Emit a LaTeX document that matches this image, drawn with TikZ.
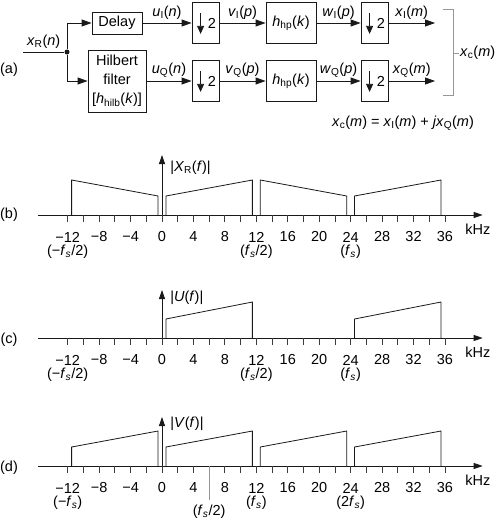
\documentclass[tikz,border=0pt]{standalone}
\usepackage{fontspec}
\setmainfont{Liberation Sans}
\usetikzlibrary{positioning, arrows.meta}
\definecolor{ink}{RGB}{25,25,25}
\definecolor{rulegray}{RGB}{150,150,150}
\newcommand{\sg}[3]{\textit{#1}\textsubscript{#2}(\textit{#3})}
\newcommand{\fsub}{\textit{f}\textsubscript{\textit{s}}}
% frequency axis of one spectrum panel
\newcommand{\freqaxis}{%
  \draw[sig, -{Triangle[length=9pt, width=6pt]}] (-15.8,0) -- (40.8,0);
  \foreach \f in {-12,-10,...,36} \draw[tck] (\f,0) -- (\f,-7);
  \foreach \f/\t in {-12/−12, -8/−8, -4/−4, 0/0, 4/4, 8/8, 12/12, 16/16,
                     20/20, 24/24, 28/28, 32/32, 36/36}
    \node[num] (n\f) at (\f,-22) {\t};
  \node[num] (khz) at (40.2,-14) {kHz};}

\begin{document}
\begin{tikzpicture}[x=1pt, y=-1pt,
  font=\fontsize{14.5}{19}\selectfont,
  blk/.style={draw=ink, line width=0.8pt, inner sep=0pt, align=center},
  dec/.style={blk, minimum width=27pt, minimum height=41pt},
  hp/.style={blk, minimum width=50pt, minimum height=41pt},
  sig/.style={draw=ink, line width=0.8pt},
  arr/.style={sig, -{Triangle[length=10pt, width=7pt]}},
  dn/.style={sig, -{Triangle[length=8pt, width=7pt]}},
  yax/.style={sig, -{Triangle[length=9pt, width=6pt]}},
  lbl/.style={inner sep=1pt, above=2pt},
  tck/.style={draw=ink!85, line width=0.8pt},
  num/.style={inner sep=0pt},
  band/.style={draw=ink, line width=0.8pt},
  brk/.style={draw=rulegray, line width=0.8pt}]
  \useasboundingbox (0,0) rectangle (498,522);

  % (a) block diagram
  \node (pa) at (9,70) {(a)};
  \coordinate (inp) at (23,52);
  \node[circle, fill=ink, inner sep=0pt, minimum size=5pt] (dot) at (67,52) {};
  \node[blk, minimum width=50pt, minimum height=22pt] (delay) at (117,23) {Delay};
  \node[blk, minimum width=58pt, minimum height=62pt] (hilb) at (117,81)
    {Hilbert\\filter\\{[}\textit{h}\textsubscript{hilb}(\textit{k}){]}};
  \node[dec] (dI1) at (205.5,23) {};
  \node[dec] (dQ1) at (205.5,81) {};
  \node[hp] (hI) at (291,23) {\textit{h}\textsubscript{hp}(\textit{k})};
  \node[hp] (hQ) at (291,81) {\textit{h}\textsubscript{hp}(\textit{k})};
  \node[dec] (dI2) at (374.5,23) {};
  \node[dec] (dQ2) at (374.5,81) {};
  \coordinate (oI) at (435,23);
  \coordinate (oQ) at (435,81);
  \foreach \n in {dI1,dQ1,dI2,dQ2} {
    \draw[dn] ([xshift=9pt, yshift=-11pt]\n.north west)
      -- ([xshift=9pt, yshift=10pt]\n.south west);
    \node[num] (two\n) at ([xshift=-7.5pt]\n.east) {2};
  }
  \draw[sig] (inp) -- (dot) node[lbl, midway] {\sg{x}{R}{n}};
  \draw[arr] (dot) |- (delay);
  \draw[arr] (dot) |- (hilb);
  \draw[arr] (delay) -- (dI1) node[lbl, midway] {\sg{u}{I}{n}};
  \draw[arr] (hilb) -- (dQ1) node[lbl, midway] {\sg{u}{Q}{n}};
  \draw[arr] (dI1) -- (hI) node[lbl, midway] {\sg{v}{I}{p}};
  \draw[arr] (dQ1) -- (hQ) node[lbl, midway] {\sg{v}{Q}{p}};
  \draw[arr] (hI) -- (dI2) node[lbl, midway] {\sg{w}{I}{p}};
  \draw[arr] (hQ) -- (dQ2) node[lbl, midway] {\sg{w}{Q}{p}};
  \draw[arr] (dI2) -- (oI) node[lbl, midway] {\sg{x}{I}{m}};
  \draw[arr] (dQ2) -- (oQ) node[lbl, midway] {\sg{x}{Q}{m}};
  \draw[brk] (443,9) -- (453,9) -- (453,95) -- (443,95);
  \draw[brk] (453,53) -- (459,53);
  \node[anchor=west, inner sep=1pt] (xc) at (459,53) {\sg{x}{c}{m}};
  \node (eq) at (403,123)
    {\sg{x}{c}{m} = \sg{x}{I}{m} + \textit{jx}\textsubscript{Q}(\textit{m})};

  % (b) spectrum of x_R
  \node (pb) at (9,215) {(b)};
  \begin{scope}[xshift=162pt, yshift=-215pt, x=7.86pt, y=1pt]
    \freqaxis
    \draw[yax] (0,0) -- (0,60);
    \node[anchor=west, inner sep=1pt] (XR) at (0.9,47)
      {|\textit{X}\textsubscript{R}(\textit{f})|};
    \draw[band] (-11.5,0) -- (-11.5,35) -- (-0.5,19) -- (-0.5,0);
    \draw[band] (0.5,0) -- (0.5,19) -- (11.5,35) -- (11.5,0);
    \draw[band] (12.5,0) -- (12.5,35) -- (23.5,19) -- (23.5,0);
    \draw[band] (24.5,0) -- (24.5,19) -- (35.5,35) -- (35.5,0);
    \node[num] (sb1) at (-12,-37) {(−\fsub/2)};
    \node[num] (sb2) at (12,-37) {(\fsub/2)};
    \node[num] (sb3) at (24,-37) {(\fsub)};
  \end{scope}

  % (c) spectrum of u
  \node (pc) at (9,340) {(c)};
  \begin{scope}[xshift=162pt, yshift=-338pt, x=7.86pt, y=1pt]
    \freqaxis
    \draw[yax] (0,0) -- (0,48);
    \node[anchor=west, inner sep=1pt] (U) at (0.9,40)
      {|\textit{U}(\textit{f})|};
    \draw[band] (0.5,0) -- (0.5,19) -- (11.5,36) -- (11.5,0);
    \draw[band] (24.5,0) -- (24.5,19) -- (35.5,36) -- (35.5,0);
    \node[num] (sc1) at (-12,-37) {(−\fsub/2)};
    \node[num] (sc2) at (12,-37) {(\fsub/2)};
    \node[num] (sc3) at (24,-37) {(\fsub)};
  \end{scope}

  % (d) spectrum of v
  \node (pd) at (9,468) {(d)};
  \begin{scope}[xshift=162pt, yshift=-466pt, x=7.86pt, y=1pt]
    \freqaxis
    \draw[yax] (0,0) -- (0,49);
    \node[anchor=west, inner sep=1pt] (V) at (0.9,42)
      {|\textit{V}(\textit{f})|};
    \draw[band] (-11.5,0) -- (-11.5,19) -- (-0.5,35) -- (-0.5,0);
    \draw[band] (0.5,0) -- (0.5,19) -- (11.5,35) -- (11.5,0);
    \draw[band] (12.5,0) -- (12.5,19) -- (23.5,35) -- (23.5,0);
    \draw[band] (24.5,0) -- (24.5,19) -- (35.5,35) -- (35.5,0);
    \draw[brk] (6,0) -- (6,-34);
    \node[num] (sd1) at (-12,-37) {(−\fsub)};
    \node[num] (sd2) at (6,-46) {(\fsub/2)};
    \node[num] (sd3) at (12,-37) {(\fsub)};
    \node[num] (sd4) at (24,-37) {(2\fsub)};
  \end{scope}
\end{tikzpicture}
\end{document}
